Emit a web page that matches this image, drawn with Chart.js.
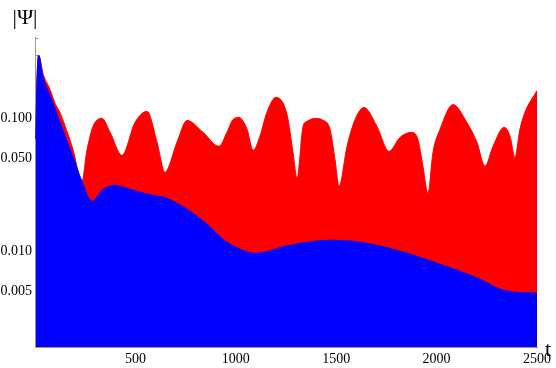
<!DOCTYPE html>
<html>
<head>
<meta charset="utf-8">
<script src="https://cdn.jsdelivr.net/npm/chart.js@4/dist/chart.umd.min.js"></script>
<style>
html,body{margin:0;padding:0;background:#fff;}
#wrap{width:556px;height:368px;position:relative;}
</style>
</head>
<body>
<div id="wrap"><canvas id="c"></canvas></div>
<script>
// Upper envelope (red)
const tRed = [4, 10, 18, 41, 75, 100, 125, 159, 189, 234, 257, 289, 334, 374, 433, 498, 558, 608, 647, 707, 757, 837, 916, 956, 986, 1016, 1056, 1086, 1120, 1155, 1200, 1255, 1285, 1305, 1335, 1355, 1395, 1434, 1469, 1494, 1514, 1554, 1594, 1638, 1703, 1763, 1818, 1877, 1907, 1932, 1957, 1982, 2017, 2082, 2151, 2201, 2241, 2281, 2336, 2366, 2390, 2415, 2440, 2500];
const red = [0.07, 0.2, 0.299, 0.215, 0.165, 0.13, 0.11, 0.08, 0.0585, 0.0336, 0.0555, 0.087, 0.1, 0.0785, 0.0527, 0.093, 0.113, 0.066, 0.0393, 0.066, 0.0966, 0.0785, 0.0616, 0.0785, 0.098, 0.1017, 0.0827, 0.0575, 0.0732, 0.111, 0.144, 0.107, 0.0555, 0.0354, 0.087, 0.095, 0.1, 0.097, 0.083, 0.0492, 0.0308, 0.0616, 0.098, 0.121, 0.087, 0.0565, 0.072, 0.0785, 0.0695, 0.0436, 0.0273, 0.0555, 0.0827, 0.127, 0.093, 0.066, 0.0436, 0.0616, 0.0856, 0.0732, 0.0509, 0.0827, 0.111, 0.162];
// Lower curve (blue)
const tBlue = [4, 10, 18, 41, 75, 125, 159, 189, 234, 284, 339, 398, 458, 523, 588, 657, 757, 857, 936, 1021, 1096, 1270, 1469, 1619, 1818, 2017, 2216, 2316, 2390, 2500];
const blue = [0.07, 0.2, 0.299, 0.2, 0.15, 0.093, 0.068, 0.0515, 0.0336, 0.0238, 0.0292, 0.0313, 0.0298, 0.0278, 0.0264, 0.025, 0.0207, 0.016, 0.0123, 0.01035, 0.00966, 0.0111, 0.0121, 0.0117, 0.01, 0.00798, 0.00616, 0.00518, 0.00492, 0.00483];
// Axis ticks
const xTicks = [500, 1000, 1500, 2000, 2500];
const yTicks = [0.005, 0.01, 0.05, 0.1];
const yMinorTicks = [0.002,0.003,0.004,0.006,0.007,0.008,0.009,0.02,0.03,0.04,0.06,0.07,0.08,0.09,0.2,0.3,0.4];

const pts = (ts, vs) => ts.map((t, i) => ({x: t, y: vs[i]}));

const serif = '"Liberation Serif", "Times New Roman", serif';

const decor = {
  id: 'decor',
  beforeDatasetsDraw(chart) {
    const ctx = chart.ctx, y = chart.scales.y, a = chart.chartArea;
    ctx.save();
    ctx.strokeStyle = '#999';
    ctx.lineWidth = 1;
    const all = yTicks.map(v => [v, 6]).concat(yMinorTicks.map(v => [v, 3]));
    for (const [v, len] of all) {
      const py = Math.round(y.getPixelForValue(v)) + 0.5;
      ctx.beginPath();
      ctx.moveTo(a.left, py);
      ctx.lineTo(a.left + len, py);
      ctx.stroke();
    }
    ctx.restore();
  },
  afterDraw(chart) {
    const ctx = chart.ctx;
    ctx.save();
    ctx.fillStyle = '#000';
    ctx.textAlign = 'center';
    ctx.textBaseline = 'alphabetic';
    ctx.font = '22px ' + serif;
    ctx.fillText('|Ψ|', 25, 24);
    ctx.font = '22px ' + serif;
    ctx.fillText('t', 548, 356);
    ctx.restore();
  }
};

new Chart(document.getElementById('c'), {
  type: 'line',
  data: {
    datasets: [
      {
        label: 'lower',
        data: pts(tBlue, blue),
        borderColor: '#0000ff',
        backgroundColor: '#0000ff',
        borderWidth: 1,
        pointRadius: 0,
        fill: 'start',
        cubicInterpolationMode: 'monotone'
      },
      {
        label: 'upper',
        data: pts(tRed, red),
        borderColor: '#ff0000',
        backgroundColor: '#ff0000',
        borderWidth: 1,
        pointRadius: 0,
        fill: 'start',
        cubicInterpolationMode: 'monotone'
      }
    ]
  },
  options: {
    responsive: true,
    maintainAspectRatio: false,
    animation: false,
    events: [],
    layout: {padding: {top: 37, right: 19, left: 0, bottom: 0}},
    plugins: {legend: {display: false}, tooltip: {enabled: false}},
    scales: {
      x: {
        type: 'linear',
        min: 0,
        max: 2500,
        afterBuildTicks: s => { s.ticks = xTicks.map(v => ({value: v})); },
        afterFit: s => { s.height = 21; },
        grid: {display: false, drawTicks: false},
        border: {display: true, color: '#999'},
        ticks: {
          padding: 4,
          maxRotation: 0,
          autoSkip: false,
          color: '#000',
          font: {family: serif, size: 14},
          callback: v => String(v)
        }
      },
      y: {
        type: 'logarithmic',
        min: 0.0019,
        max: 0.41,
        afterBuildTicks: s => { s.ticks = yTicks.map(v => ({value: v})); },
        afterFit: s => { s.width = 35; },
        grid: {display: false, drawTicks: false},
        border: {display: true, color: '#999'},
        ticks: {
          padding: 3,
          autoSkip: false,
          color: '#000',
          font: {family: serif, size: 14},
          callback: v => Number(v).toFixed(3)
        }
      }
    }
  },
  plugins: [decor]
});
</script>
</body>
</html>
